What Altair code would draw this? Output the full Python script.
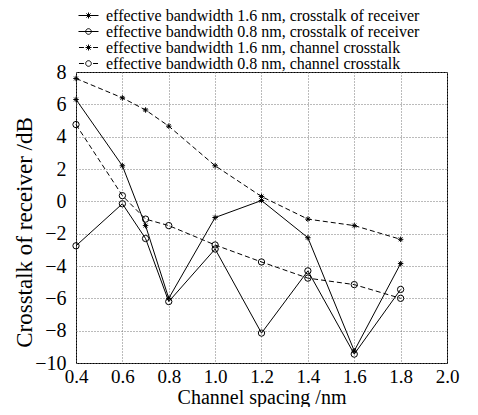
import altair as alt
import pandas as pd

FONT = "Liberation Serif"

# ---- data ----
spacing = [0.4, 0.6, 0.7, 0.8, 1.0, 1.2, 1.4, 1.6, 1.8]
series_names = [
    "effective bandwidth 1.6 nm, crosstalk of receiver",
    "effective bandwidth 0.8 nm, crosstalk of receiver",
    "effective bandwidth 1.6 nm, channel crosstalk",
    "effective bandwidth 0.8 nm, channel crosstalk",
]
rx_16 = [6.3, 2.2, -1.5, -6.0, -1.0, 0.05, -2.25, -9.25, -3.85]
rx_08 = [-2.75, -0.15, -2.3, -6.2, -2.95, -8.15, -4.3, -9.45, -5.45]
ch_16 = [7.6, 6.4, 5.65, 4.65, 2.2, 0.3, -1.1, -1.5, -2.35]
ch_08 = [4.75, 0.35, -1.1, -1.5, -2.7, -3.75, -4.75, -5.15, -6.0]
markers = ["star", "circle", "star", "circle"]
styles = ["solid", "solid", "dashed", "dashed"]
x_ticks = [0.4, 0.6, 0.8, 1.0, 1.2, 1.4, 1.6, 1.8, 2.0]
y_ticks = [-10, -8, -6, -4, -2, 0, 2, 4, 6, 8]

rows = []
for name, vals, mk, st in zip(series_names, [rx_16, rx_08, ch_16, ch_08], markers, styles):
    for xv, yv in zip(spacing, vals):
        rows.append({"series": name, "spacing": xv, "xt": yv, "marker": mk, "style": st})
df = pd.DataFrame(rows)

STAR = "M-1,0L1,0M0,-1L0,1M-0.7,-0.7L0.7,0.7M-0.7,0.7L0.7,-0.7"
SPOKES = "M-0.43,0L0.43,0M0,-0.43L0,0.43M-0.3,-0.3L0.3,0.3M-0.3,0.3L0.3,-0.3"
RING = "M0.4,0A0.4,0.4 0 1,1 -0.4,0A0.4,0.4 0 1,1 0.4,0"
legend_paths = [
    "M-1.43,0L1.43,0" + SPOKES,
    "M-1.43,0L1.43,0" + RING,
    "M-1.36,0L-0.65,0M0.65,0L1.36,0" + SPOKES,
    "M-1.36,0L-0.65,0M0.65,0L1.36,0" + RING,
]

x_enc = alt.X(
    "spacing:Q",
    scale=alt.Scale(domain=[0.4, 2.0], nice=False, zero=False),
    axis=alt.Axis(values=x_ticks, format=".1f", title="Channel spacing /nm",
                  labelPadding=4, labelFontSize=19, titleFontSize=20, titleY=40,
                  titleBaseline="alphabetic"),
)
y_enc = alt.Y(
    "xt:Q",
    scale=alt.Scale(domain=[-10, 8], nice=False, zero=False),
    axis=alt.Axis(values=y_ticks, format="d", title="Crosstalk of receiver /dB",
                  labelPadding=10, titleFontSize=23, titleX=-52, titleY=160,
                  titleAlign="center", titleBaseline="middle"),
)

solid_lines = alt.Chart(df).transform_filter(alt.datum.style == "solid").mark_line(
    color="black", strokeWidth=1
).encode(x=x_enc, y=y_enc, detail="series:N")

dashed_lines = alt.Chart(df).transform_filter(alt.datum.style == "dashed").mark_line(
    color="black", strokeWidth=1, strokeDash=[5, 3]
).encode(x=x_enc, y=y_enc, detail="series:N")

stars = alt.Chart(df).transform_filter(alt.datum.marker == "star").mark_point(
    shape=STAR, size=30, filled=False, color="black", strokeWidth=1, opacity=1
).encode(x=x_enc, y=y_enc)

circles = alt.Chart(df).transform_filter(alt.datum.marker == "circle").mark_point(
    shape="circle", size=40, filled=False, color="black", strokeWidth=1, opacity=1
).encode(x=x_enc, y=y_enc)

legend_layer = alt.Chart(df).mark_point(
    filled=False, color="black", opacity=1, size=0
).encode(
    x=x_enc,
    y=y_enc,
    shape=alt.Shape(
        "series:N",
        scale=alt.Scale(domain=series_names, range=legend_paths),
        legend=alt.Legend(
            title=None, orient="none", legendX=4.5, legendY=-64.5,
            symbolSize=196, symbolStrokeWidth=1, symbolStrokeColor="black",
            symbolFillColor="transparent", symbolOpacity=1,
            labelFont=FONT, labelFontSize=16, labelColor="black",
            labelOffset=9.5, rowPadding=0, padding=0, labelLimit=400,
        ),
    ),
)

chart = alt.layer(solid_lines, dashed_lines, stars, circles, legend_layer).properties(
    width=371,
    height=291,
    autosize=alt.AutoSizeParams(type="none"),
    padding={"left": 68, "top": 64, "right": 23, "bottom": 44},
).configure_view(stroke="black", strokeWidth=1).configure_axis(
    domain=False, ticks=False, grid=True, gridDash=[1, 2], gridColor="#777",
    gridWidth=1, labelFont=FONT, labelFontSize=20, labelColor="black",
    labelOverlap=False, labelFlush=False, titleFont=FONT,
    titleFontWeight="normal", titleColor="black",
)

chart.save("out.html", embed_options={"renderer": "svg", "actions": False})
